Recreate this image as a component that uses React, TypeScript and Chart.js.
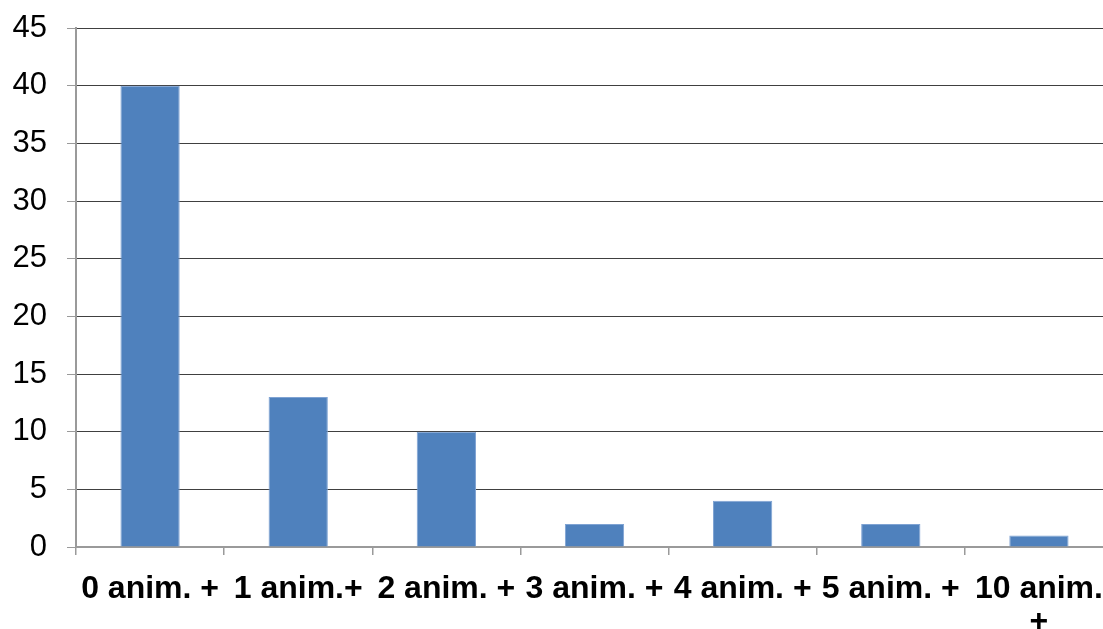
import React, { useEffect, useRef } from "react";
import { Chart, registerables } from "chart.js";

Chart.register(...registerables);

// Categories: number of animals, counts per group
const categories: (string | string[])[] = [
  "0 anim. +",
  "1 anim.+",
  "2 anim. +",
  "3 anim. +",
  "4 anim. +",
  "5 anim. +",
  ["10 anim.", "+"],
];
const counts: number[] = [40, 13, 10, 2, 4, 2, 1];

const yMin = 0;
const yMax = 45;
const yStep = 5;

const CANVAS_W = 1125;
const CANVAS_H = 645;
const AXIS_LEFT = 76;
const PLOT_TOP = 28;
const PLOT_BOTTOM = 547;

export default function App() {
  const ref = useRef<HTMLCanvasElement | null>(null);

  useEffect(() => {
    if (!ref.current) return;
    const chart = new Chart(ref.current, {
      type: "bar",
      data: {
        labels: categories,
        datasets: [
          {
            data: counts,
            backgroundColor: "#4F81BD",
            borderColor: "#7FA3D3",
            borderWidth: 1,
            barPercentage: 0.4,
            categoryPercentage: 1,
          },
        ],
      },
      options: {
        responsive: false,
        animation: false,
        layout: { padding: { top: PLOT_TOP, right: 12, left: 0, bottom: 0 } },
        plugins: {
          legend: { display: false },
          tooltip: { enabled: false },
        },
        scales: {
          x: {
            offset: true,
            afterFit: (scale: any) => {
              scale.height = CANVAS_H - PLOT_BOTTOM;
              scale.paddingLeft = 0;
              scale.paddingRight = 0;
            },
            grid: {
              display: true,
              drawOnChartArea: false,
              drawTicks: true,
              tickLength: 8,
              offset: true,
              color: "#9a9a9a",
              lineWidth: 1.5,
            },
            border: { display: true, color: "#9a9a9a", width: 2 },
            ticks: {
              color: "#000",
              padding: 17,
              maxRotation: 0,
              autoSkip: false,
              font: {
                family: "'Liberation Sans', Arial, sans-serif",
                size: 32,
                weight: "bold",
                lineHeight: 1.05,
              },
            },
          },
          y: {
            min: yMin,
            max: yMax,
            afterFit: (scale: any) => {
              scale.width = AXIS_LEFT;
              scale.paddingTop = 0;
              scale.paddingBottom = 0;
            },
            grid: {
              color: "#404040",
              lineWidth: 1,
              tickColor: "#9a9a9a",
              tickLength: 9,
              drawTicks: true,
            },
            border: { display: true, color: "#9a9a9a", width: 2 },
            ticks: {
              stepSize: yStep,
              color: "#000",
              padding: 20,
              font: {
                family: "'Liberation Sans', Arial, sans-serif",
                size: 31,
              },
            },
          },
        },
      },
    });
    return () => chart.destroy();
  }, []);

  return (
    <div
      style={{
        position: "fixed",
        left: 0,
        top: 0,
        width: 1103,
        height: 629,
        overflow: "hidden",
        background: "#fff",
      }}
    >
      <canvas ref={ref} width={CANVAS_W} height={CANVAS_H} style={{ display: "block" }} />
    </div>
  );
}
